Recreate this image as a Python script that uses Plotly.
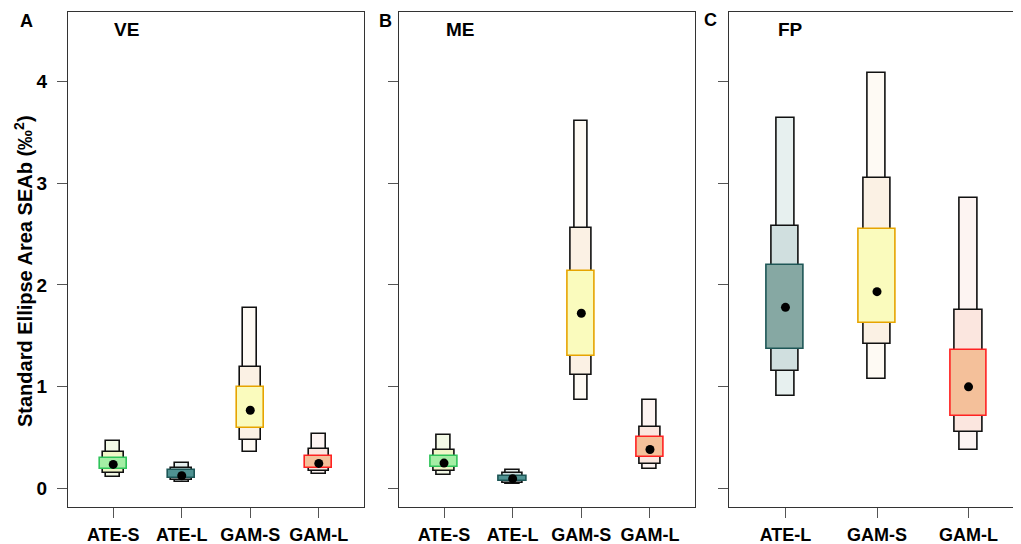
import plotly.graph_objects as go

# ---------------- data ----------------
panel_titles = ["VE", "ME", "FP"]
panel_letters = ["A", "B", "C"]

cats_VE = ["ATE-S", "ATE-L", "GAM-S", "GAM-L"]
cats_ME = ["ATE-S", "ATE-L", "GAM-S", "GAM-L"]
cats_FP = ["ATE-L", "GAM-S", "GAM-L"]

# VE
mode_VE = [0.238, 0.127, 0.77, 0.248]
ci50_lo_VE = [0.192, 0.100, 0.598, 0.206]
ci50_hi_VE = [0.304, 0.182, 0.996, 0.320]
ci75_lo_VE = [0.150, 0.084, 0.476, 0.173]
ci75_hi_VE = [0.356, 0.206, 1.196, 0.388]
ci95_lo_VE = [0.118, 0.065, 0.356, 0.140]
ci95_hi_VE = [0.467, 0.255, 1.777, 0.532]

# ME
mode_ME = [0.251, 0.098, 1.722, 0.385]
ci50_lo_ME = [0.209, 0.072, 1.307, 0.310]
ci50_hi_ME = [0.320, 0.124, 2.140, 0.506]
ci75_lo_ME = [0.170, 0.059, 1.120, 0.245]
ci75_hi_ME = [0.375, 0.153, 2.562, 0.601]
ci95_lo_ME = [0.137, 0.049, 0.875, 0.192]
ci95_hi_ME = [0.526, 0.180, 3.614, 0.872]

# FP
mode_FP = [1.780, 1.934, 1.000]
ci50_lo_FP = [1.369, 1.630, 0.709]
ci50_hi_FP = [2.192, 2.549, 1.363]
ci75_lo_FP = [1.157, 1.425, 0.559]
ci75_hi_FP = [2.581, 3.055, 1.755]
ci95_lo_FP = [0.905, 1.081, 0.382]
ci95_hi_FP = [3.643, 4.078, 2.856]

y_ticks = [0, 1, 2, 3, 4]

# colours per group: (inner fill, inner border, middle fill, outer fill)
group_colors = {
    "ATE-S": ("#a4eea4", "#2fc45a", "#f1f6c8", "#f3f9e6"),
    "ATE-L": ("#86a8a3", "#1d5656", "#d0dfdf", "#e7f0ef"),
    "GAM-S": ("#fafbbd", "#e6a400", "#fbf1e4", "#fefaf4"),
    "GAM-L": ("#f4c09a", "#ff2222", "#fbe6df", "#fdf4f2"),
}
ate_l_inner_small = "#4f9292"

panels = [
    (cats_VE, mode_VE, ci50_lo_VE, ci50_hi_VE, ci75_lo_VE, ci75_hi_VE, ci95_lo_VE, ci95_hi_VE),
    (cats_ME, mode_ME, ci50_lo_ME, ci50_hi_ME, ci75_lo_ME, ci75_hi_ME, ci95_lo_ME, ci95_hi_ME),
    (cats_FP, mode_FP, ci50_lo_FP, ci50_hi_FP, ci75_lo_FP, ci75_hi_FP, ci95_lo_FP, ci95_hi_FP),
]

# ---------------- layout geometry ----------------
W, H = 1021, 544
x_dom_px = [(60, 356), (390.7, 687.3), (720.7, 1017.3)]
y_dom_px = (4, 499)
FONT = "Liberation Sans"

fig = go.Figure()

for i, (cats, mode, l50, h50, l75, h75, l95, h95) in enumerate(panels):
    xa = "x" if i == 0 else f"x{i+1}"
    ya = "y" if i == 0 else f"y{i+1}"
    xs = list(range(1, len(cats) + 1))
    cols = [group_colors[c] for c in cats]
    inner_fill = [c[0] for c in cols]
    if i < 2:
        inner_fill = [ate_l_inner_small if c == "ATE-L" else f for c, f in zip(cats, inner_fill)]
    # outer (95%) narrow box
    fig.add_trace(go.Bar(x=xs, y=[h - l for h, l in zip(h95, l95)], base=l95, width=0.2,
                         marker=dict(color=[c[3] for c in cols], line=dict(color="#111111", width=1.6)),
                         xaxis=xa, yaxis=ya, showlegend=False, hoverinfo="skip"))
    # middle (75%) box
    fig.add_trace(go.Bar(x=xs, y=[h - l for h, l in zip(h75, l75)], base=l75, width=0.3,
                         marker=dict(color=[c[2] for c in cols], line=dict(color="#111111", width=1.6)),
                         xaxis=xa, yaxis=ya, showlegend=False, hoverinfo="skip"))
    # inner (50%) wide box
    fig.add_trace(go.Bar(x=xs, y=[h - l for h, l in zip(h50, l50)], base=l50, width=0.4,
                         marker=dict(color=inner_fill, line=dict(color=[c[1] for c in cols], width=1.6)),
                         xaxis=xa, yaxis=ya, showlegend=False, hoverinfo="skip"))
    # mode dots
    fig.add_trace(go.Scatter(x=xs, y=mode, mode="markers",
                             marker=dict(color="black", size=9),
                             xaxis=xa, yaxis=ya, showlegend=False, hoverinfo="skip"))

    n = len(cats)
    x0, x1 = x_dom_px[i]
    fig.layout[f"xaxis{'' if i == 0 else i+1}"] = dict(
        domain=[x0 / W, x1 / W], anchor=ya,
        range=[0.5 - 0.04 * n, n + 0.5 + 0.04 * n],
        tickmode="array", tickvals=xs, ticktext=cats,
        ticks="outside", ticklen=10, tickwidth=1, tickcolor="#555555",
        ticklabelstandoff=1,
        tickfont=dict(family=FONT, size=18, color="black", weight="bold"),
        showline=True, linecolor="#333333", linewidth=1, mirror=True,
        showgrid=False, zeroline=False, fixedrange=True,
    )
    fig.layout[f"yaxis{'' if i == 0 else i+1}"] = dict(
        domain=[1 - y_dom_px[1] / H, 1 - y_dom_px[0] / H], anchor=xa,
        range=[-0.18, 4.68],
        tickmode="array", tickvals=y_ticks,
        ticktext=[str(t) for t in y_ticks] if i == 0 else ["" for t in y_ticks],
        showticklabels=(i == 0),
        ticks="outside", ticklen=10, tickwidth=1, tickcolor="#555555",
        ticklabelstandoff=6,
        tickfont=dict(family=FONT, size=19, color="black", weight="bold"),
        showline=True, linecolor="#333333", linewidth=1, mirror=True,
        showgrid=False, zeroline=False, fixedrange=True,
    )

annotations = []
letter_pos = [(18, 13), (377, 13), (702, 12)]
title_pos = [(118, 22), (452, 22), (782, 22)]
for i in range(3):
    lx, ly = letter_pos[i]
    annotations.append(dict(x=lx / W, y=1 - ly / H, xref="paper", yref="paper",
                            text=panel_letters[i], showarrow=False, xanchor="center", yanchor="middle",
                            font=dict(family=FONT, size=18, color="black", weight="bold")))
    tx, ty = title_pos[i]
    annotations.append(dict(x=tx / W, y=1 - ty / H, xref="paper", yref="paper",
                            text=panel_titles[i], showarrow=False, xanchor="center", yanchor="middle",
                            font=dict(family=FONT, size=19, color="black", weight="bold")))
annotations.append(dict(x=15 / W, y=1 - 263 / H, xref="paper", yref="paper",
                        text="Standard Ellipse Area SEAb (‰<sup>2</sup>)", textangle=-90,
                        showarrow=False, xanchor="center", yanchor="middle",
                        font=dict(family=FONT, size=20, color="black", weight="bold")))

fig.update_layout(
    width=W, height=H, margin=dict(l=0, r=0, t=0, b=0),
    barmode="overlay", bargap=0,
    paper_bgcolor="white", plot_bgcolor="white",
    annotations=annotations,
    showlegend=False,
)

fig.write_html("out.html")
